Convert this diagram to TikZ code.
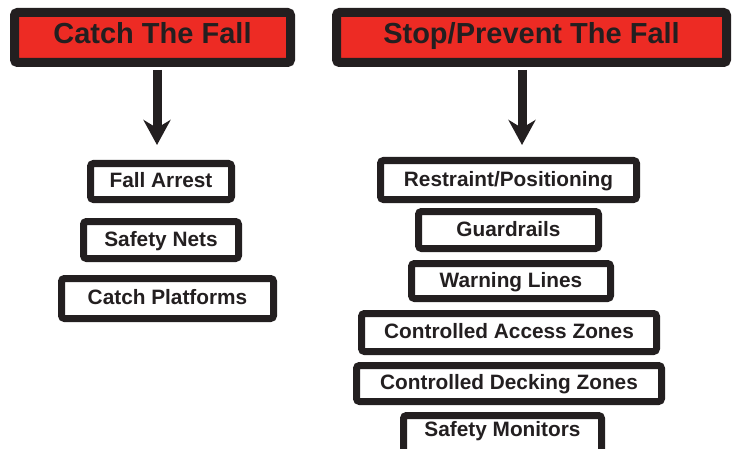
\documentclass[tikz,border=0pt]{standalone}
\usepackage{fontspec}
\setmainfont{Liberation Sans}
\usetikzlibrary{positioning,arrows.meta}
\definecolor{ink}{HTML}{231F20}
\definecolor{alarm}{HTML}{ED2B24}

\begin{document}
\begin{tikzpicture}[
	x=1pt, y=-1pt,
	header/.style = {
		draw=ink, fill=alarm,
		line width=9pt,
		rounded corners=3pt,
		inner sep=0pt,
		minimum height=50pt,
		text=ink,
		text height=21pt, text depth=9pt,
		font=\fontsize{29}{32}\selectfont\bfseries,
	},
	item/.style = {
		draw=ink, fill=white,
		line width=7pt,
		rounded corners=3pt,
		inner sep=0pt,
		text=ink,
		text height=15pt, text depth=3pt,
		font=\fontsize{20.8}{24}\selectfont\bfseries,
	},
	arr/.style = {
		draw=ink, line width=9pt, shorten <=3pt,
		-{Stealth[length=25pt,width=27pt,inset=8pt]},
	},
]
\clip (0,0) rectangle (735,449);

% Headers
\node [header, minimum width=276pt] (catch) at (152.5,37.5) {Catch The Fall};
\node [header, minimum width=390pt] (stop) at (531.5,37.5) {Stop/Prevent The Fall};

% Arrows
\coordinate (tipL) at (157,145);
\coordinate (tipR) at (522,145);
\draw[arr] (tipL |- catch.south) -- (tipL);
\draw[arr] (tipR |- stop.south) -- (tipR);

% Catch list
\node [item, minimum width=141pt, minimum height=36pt,
	below=15pt of tipL, xshift=4pt] (fa) {Fall Arrest};
\node [item, minimum width=155pt, minimum height=37pt,
	below=15pt of fa] (sn) {Safety Nets};
\node [item, minimum width=212pt, minimum height=40pt,
	below=13pt of sn, xshift=6.5pt] (cp) {Catch Platforms};

% Stop/Prevent list
\node [item, minimum width=256pt, minimum height=39pt,
	below=12pt of tipR, xshift=-13.5pt] (rp) {Restraint/Positioning};
\node [item, minimum width=180pt, minimum height=37pt,
	below=5pt of rp] (gr) {Guardrails};
\node [item, minimum width=199pt, minimum height=35pt,
	below=8pt of gr, xshift=2.5pt] (wl) {Warning Lines};
\node [item, minimum width=295pt, minimum height=38pt,
	below=8pt of wl, xshift=-2pt] (caz) {Controlled Access Zones};
\node [item, minimum width=305pt, minimum height=36pt,
	below=7pt of caz] (cdz) {Controlled Decking Zones};
\node [item, minimum width=198pt, minimum height=38pt, text depth=11pt,
	below=7pt of cdz, xshift=-6.5pt] (sm) {Safety Monitors}; % runs off the bottom

\end{tikzpicture}
\end{document}
